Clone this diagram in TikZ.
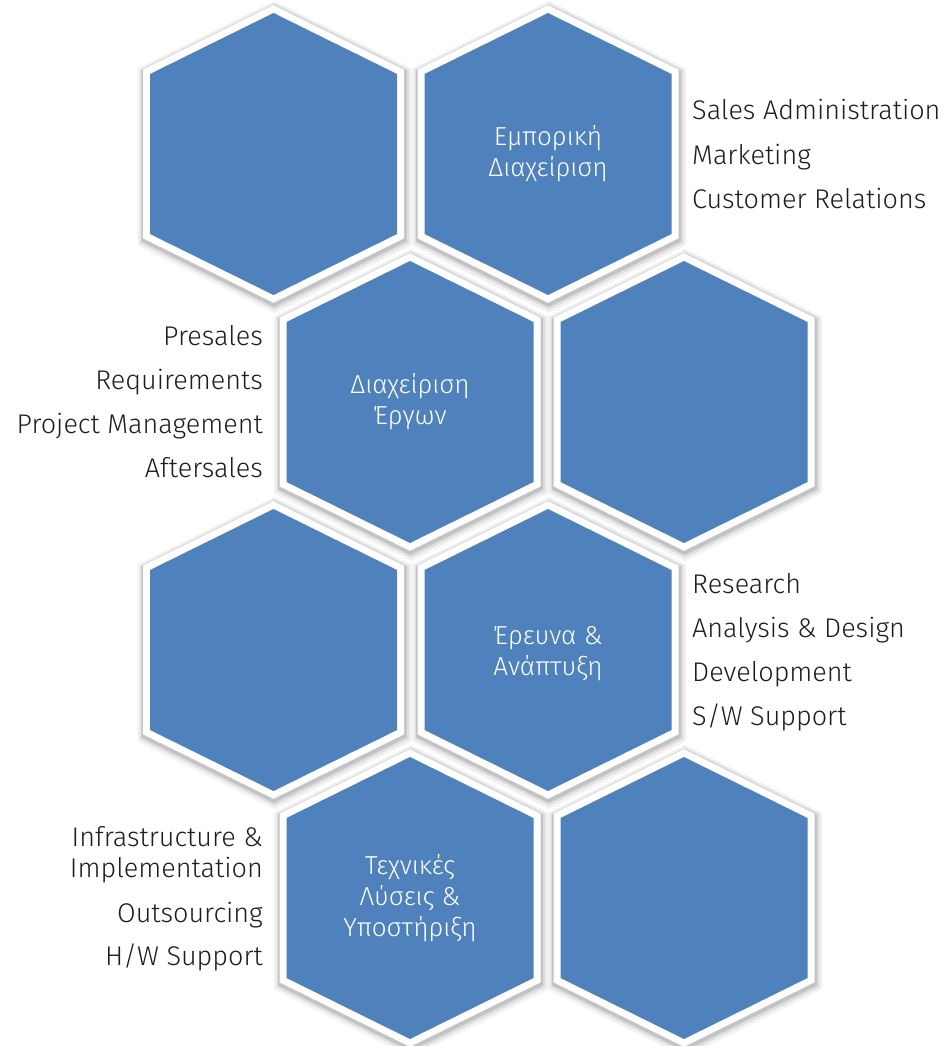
\documentclass[tikz,border=0pt]{standalone}
\usepackage{fontspec}
\setmainfont{Fira Sans Light}
\definecolor{hexblue}{RGB}{79,129,189}
\definecolor{txtgray}{RGB}{30,30,30}
\newcommand{\hexp}{(0,-141) -- (123.5,-80) -- (123.5,80) -- (0,141) -- (-123.5,80) -- (-123.5,-80) -- cycle}
\newcommand{\hexshadow}[2]{%
  \begin{scope}[shift={(#1,#2)}]
    \draw[black, opacity=.05, line width=27, line join=miter, shift={(1,3)}] \hexp;
    \draw[black, opacity=.08, line width=22, line join=miter, shift={(1,2.5)}] \hexp;
    \draw[black, opacity=.12, line width=18, line join=miter, shift={(0.5,2)}] \hexp;
  \end{scope}}
\newcommand{\hexcell}[3]{%
  \coordinate (#3) at (#1,#2);
  \begin{scope}[shift={(#3)}]
    \filldraw[white, line width=14, line join=miter] \hexp;
    \fill[hexblue] \hexp;
  \end{scope}}
\tikzset{
  lbl/.style={inner sep=0pt, text=txtgray, font=\fontsize{27}{31}\selectfont},
  hexlbl/.style={inner sep=0pt, align=center, text=white, font=\fontsize{26}{31}\selectfont}
}
\begin{document}
\begin{tikzpicture}[x=1pt,y=-1pt]
\fill[white] (0,0) rectangle (949,1046);
\useasboundingbox (0,0) rectangle (949,1046);
% shadows
\hexshadow{273.5}{154}\hexshadow{548}{154}
\hexshadow{410}{402}\hexshadow{684}{402}
\hexshadow{273.5}{650}\hexshadow{548}{650}
\hexshadow{410}{898}\hexshadow{684}{898}
% hexagons
\hexcell{273.5}{154}{h11}\hexcell{548}{154}{h12}
\hexcell{410}{402}{h21}\hexcell{684}{402}{h22}
\hexcell{273.5}{650}{h31}\hexcell{548}{650}{h32}
\hexcell{410}{898}{h41}\hexcell{684}{898}{h42}
% hexagon labels
\node[hexlbl] (t12) at (h12) {Εμπορική\\Διαχείριση};
\node[hexlbl] (t21) at (h21) {Διαχείριση\\Έργων};
\node[hexlbl] (t32) at ([yshift=-4pt]h32) {Έρευνα \&\\Ανάπτυξη};
\node[hexlbl] (t41) at (h41) {Τεχνικές\\Λύσεις \&\\Υποστήριξη};
% lists
\node[lbl, anchor=base west] (a1) at (692,120) {Sales Administration};
\node[lbl, anchor=base west] (a2) at (692,164) {Marketing};
\node[lbl, anchor=base west] (a3) at (692,208) {Customer Relations};
\node[lbl, anchor=base east] (b1) at (263,345) {Presales};
\node[lbl, anchor=base east] (b2) at (263,389) {Requirements};
\node[lbl, anchor=base east] (b3) at (263,433) {Project Management};
\node[lbl, anchor=base east] (b4) at (263,477) {Aftersales};
\node[lbl, anchor=base west] (c1) at (692,593) {Research};
\node[lbl, anchor=base west] (c2) at (692,637) {Analysis \& Design};
\node[lbl, anchor=base west] (c3) at (692,681) {Development};
\node[lbl, anchor=base west] (c4) at (692,725) {S/W Support};
\node[lbl, anchor=base east] (d1) at (263,846) {Infrastructure \&};
\node[lbl, anchor=base east] (d2) at (263,877) {Implementation};
\node[lbl, anchor=base east] (d3) at (263,922) {Outsourcing};
\node[lbl, anchor=base east] (d4) at (263,965) {H/W Support};
\end{tikzpicture}
\end{document}
